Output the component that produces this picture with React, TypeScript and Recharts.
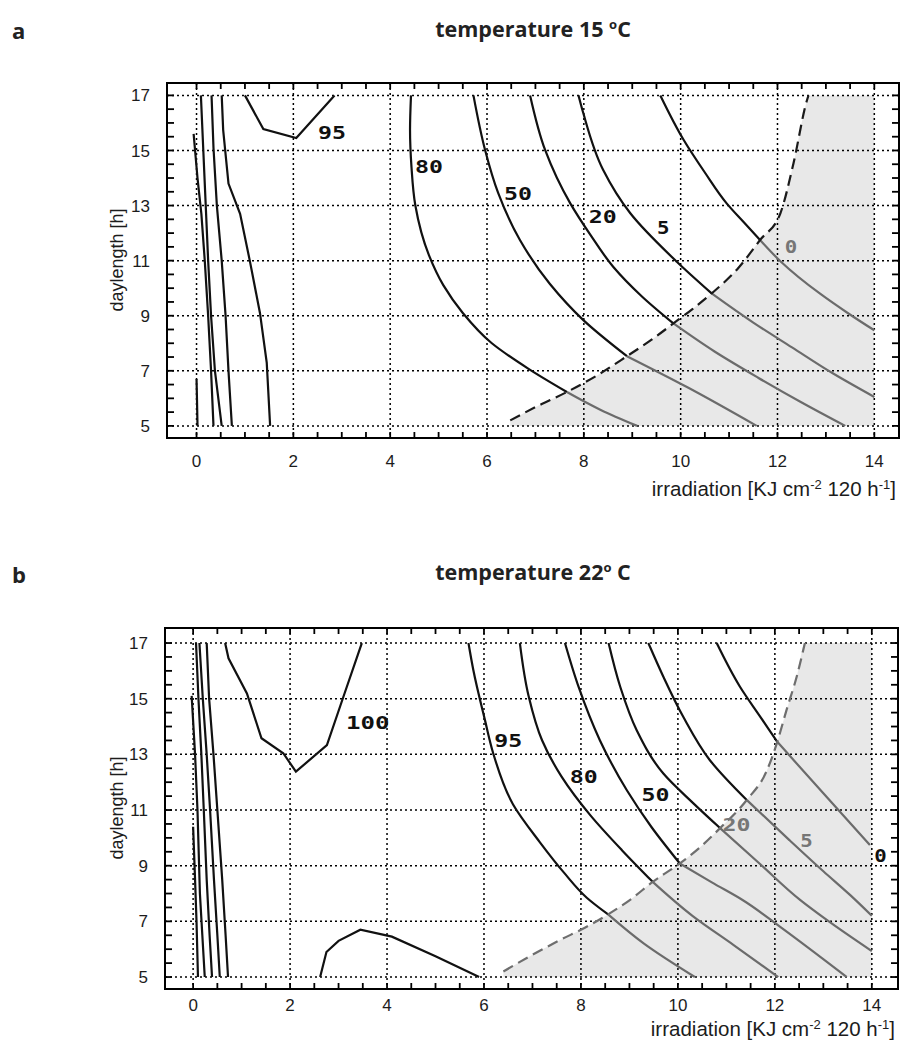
import React from 'react';
import { ComposedChart, Line, Area, XAxis, YAxis, CartesianGrid, ReferenceArea, ReferenceDot } from 'recharts';

type Pt = [number, number];
type Row = { x: number; y: number };
type Lbl = { text: string; x: number; y: number; gray?: boolean };

// ---------- axis ticks ----------
const majorX = [0, 2, 4, 6, 8, 10, 12, 14];
const majorY = [5, 7, 9, 11, 13, 15, 17];
const minorX = [0, 0.5, 1, 1.5, 2, 2.5, 3, 3.5, 4, 4.5, 5, 5.5, 6, 6.5, 7, 7.5, 8, 8.5, 9, 9.5, 10, 10.5, 11, 11.5, 12, 12.5, 13, 13.5, 14];
const minorY = [5, 5.5, 6, 6.5, 7, 7.5, 8, 8.5, 9, 9.5, 10, 10.5, 11, 11.5, 12, 12.5, 13, 13.5, 14, 14.5, 15, 15.5, 16, 16.5, 17];

// ---------- panel a (15 °C) ----------
const aLeft1: Pt[] = [[0.0, 6.7], [0.01, 5.9], [0.02, 5.0]];
const aLeft2: Pt[] = [[-0.06, 15.6], [0.02, 14.0], [0.1, 12.7], [0.17, 11.0], [0.24, 9.0], [0.3, 7.0], [0.35, 5.0]];
const aLeft3: Pt[] = [[0.09, 17.0], [0.14, 15.0], [0.19, 13.0], [0.24, 11.0], [0.3, 9.0], [0.38, 7.0], [0.52, 5.0]];
const aLeft4: Pt[] = [[0.31, 17.0], [0.35, 15.1], [0.42, 13.0], [0.52, 11.0], [0.6, 9.0], [0.66, 7.0], [0.73, 5.0]];
const aLeft5: Pt[] = [[0.52, 17.0], [0.55, 15.75], [0.66, 13.8], [0.9, 12.7], [1.1, 11.0], [1.31, 9.1], [1.45, 7.3], [1.52, 5.0]];
const a95: Pt[] = [[1.0, 17.0], [1.38, 15.78], [2.06, 15.45], [2.85, 17.0]];
const a80: Pt[] = [[4.43, 17.0], [4.41, 15.75], [4.44, 14.4], [4.52, 13.0], [4.8, 11.2], [5.1, 10.1], [5.5, 9.1], [6.1, 8.0], [6.85, 7.08], [7.65, 6.23]];
const a80Shade: Pt[] = [[7.65, 6.23], [8.35, 5.58], [9.1, 5.0]];
const a50: Pt[] = [[5.72, 17.0], [5.96, 15.02], [6.23, 13.46], [6.68, 11.75], [7.3, 10.15], [7.99, 8.84], [8.89, 7.53]];
const a50Shade: Pt[] = [[8.89, 7.53], [10.13, 6.41], [11.57, 5.0]];
const a20: Pt[] = [[6.89, 17.0], [7.2, 15.02], [7.72, 13.08], [8.15, 11.9], [8.61, 10.77], [9.2, 9.7], [9.85, 8.72]];
const a20Shade: Pt[] = [[9.85, 8.72], [10.7, 7.7], [11.6, 6.75], [12.5, 5.85], [13.4, 5.0]];
const a5: Pt[] = [[7.89, 17.0], [7.99, 16.35], [8.4, 14.29], [8.96, 12.72], [9.92, 10.96], [10.64, 9.81]];
const a5Shade: Pt[] = [[10.64, 9.81], [11.5, 8.75], [12.3, 7.85], [13.15, 6.9], [14.0, 6.05]];
const a0: Pt[] = [[9.58, 17.0], [10.06, 15.39], [10.5, 14.2], [10.95, 13.08], [11.3, 12.4], [11.64, 11.75]];
const a0Shade: Pt[] = [[11.64, 11.75], [12.06, 10.98], [12.88, 9.8], [13.45, 9.1], [14.0, 8.47]];
const aBoundary: Pt[] = [[6.48, 5.2], [7.0, 5.68], [7.65, 6.23], [8.3, 6.86], [8.89, 7.53], [9.4, 8.13], [9.85, 8.72], [10.25, 9.25], [10.64, 9.81], [11.2, 10.75], [11.64, 11.75], [12.06, 12.72], [12.33, 14.53], [12.6, 16.77], [12.64, 17.0]];
const aShadeCorner: Pt[] = [[14.0, 17.0]];
const aLabels: Lbl[] = [
  { text: '95', x: 2.8, y: 15.64 },
  { text: '80', x: 4.8, y: 14.41 },
  { text: '50', x: 6.64, y: 13.44 },
  { text: '20', x: 8.39, y: 12.6 },
  { text: '5', x: 9.64, y: 12.2 },
  { text: '0', x: 12.28, y: 11.5, gray: true },
];

// ---------- panel b (22 °C) ----------
const bLeft1: Pt[] = [[0.0, 10.4], [0.04, 8.5], [0.07, 7.0], [0.1, 5.0]];
const bLeft2: Pt[] = [[-0.03, 15.1], [0.04, 13.0], [0.09, 11.0], [0.14, 8.0], [0.19, 6.5], [0.24, 5.0]];
const bLeft3: Pt[] = [[0.06, 17.0], [0.11, 15.0], [0.17, 13.0], [0.22, 11.0], [0.28, 8.5], [0.34, 6.5], [0.39, 5.0]];
const bLeft4: Pt[] = [[0.13, 17.0], [0.2, 15.0], [0.28, 13.0], [0.35, 11.0], [0.43, 8.5], [0.5, 6.5], [0.55, 5.0]];
const bLeft5: Pt[] = [[0.28, 17.0], [0.33, 15.0], [0.42, 13.0], [0.5, 11.0], [0.6, 8.5], [0.67, 6.5], [0.72, 5.0]];
const b100Top: Pt[] = [[0.66, 17.0], [0.73, 16.45], [1.11, 15.19], [1.41, 13.58], [1.86, 13.04], [2.12, 12.38], [2.76, 13.33], [3.1, 15.07], [3.48, 17.0]];
const b100Bottom: Pt[] = [[2.62, 5.0], [2.75, 5.9], [3.0, 6.3], [3.45, 6.7], [4.1, 6.45], [5.0, 5.75], [5.9, 5.0]];
const b95: Pt[] = [[5.68, 17.0], [5.78, 16.03], [6.02, 14.23], [6.19, 13.04], [6.6, 11.2], [7.15, 9.85], [7.65, 8.75], [8.12, 7.85], [8.56, 7.25]];
const b95Shade: Pt[] = [[8.56, 7.25], [9.3, 6.2], [10.35, 5.0]];
const b80: Pt[] = [[6.74, 17.0], [6.92, 15.1], [7.2, 13.5], [7.6, 12.2], [8.2, 10.8], [8.85, 9.55], [9.48, 8.42]];
const b80Shade: Pt[] = [[9.48, 8.42], [10.3, 7.2], [11.15, 6.15], [12.07, 5.0]];
const b50: Pt[] = [[7.67, 17.0], [7.95, 15.43], [8.39, 13.51], [8.95, 11.7], [9.45, 10.4], [10.04, 9.08]];
const b50Shade: Pt[] = [[10.04, 9.08], [10.7, 8.4], [11.35, 7.75], [12.11, 6.8], [13.48, 5.0]];
const b20: Pt[] = [[8.57, 17.0], [8.81, 15.43], [9.15, 13.87], [9.7, 12.31], [10.32, 11.24], [10.87, 10.35]];
const b20Shade: Pt[] = [[10.87, 10.35], [11.7, 9.05], [12.52, 7.77], [13.07, 7.05], [14.0, 5.93]];
const b5: Pt[] = [[9.39, 17.0], [9.7, 15.79], [10.11, 14.35], [10.66, 12.79], [11.42, 11.36]];
const b5Shade: Pt[] = [[11.42, 11.36], [12.3, 9.92], [13.0, 8.8], [13.55, 7.95], [14.0, 7.2]];
const b0: Pt[] = [[10.8, 17.0], [11.28, 15.43], [11.7, 14.35], [12.05, 13.45]];
const b0Shade: Pt[] = [[12.05, 13.45], [13.0, 11.6], [13.96, 9.74]];
const bBoundary: Pt[] = [[6.4, 5.2], [7.0, 5.8], [7.57, 6.33], [8.09, 6.78], [8.56, 7.25], [9.05, 7.82], [9.48, 8.42], [10.04, 9.08], [10.45, 9.65], [10.87, 10.35], [11.42, 11.36], [11.83, 12.4], [12.05, 13.45], [12.24, 14.59], [12.45, 15.79], [12.62, 17.0]];
const bShadeCorner: Pt[] = [[14.0, 17.0]];
const bLabels: Lbl[] = [
  { text: '100', x: 3.6, y: 14.13 },
  { text: '95', x: 6.5, y: 13.49 },
  { text: '80', x: 8.06, y: 12.2 },
  { text: '50', x: 9.54, y: 11.54 },
  { text: '20', x: 11.21, y: 10.49, gray: true },
  { text: '5', x: 12.65, y: 9.92, gray: true },
  { text: '0', x: 14.18, y: 9.36 },
];

const BLACK = '#111111';
const GRAY = '#6b6b6b';
const SANS = '"Liberation Sans", Arial, sans-serif';
const TITLE = '"Open Sans", sans-serif';
const MONO = '"DejaVu Sans Mono", monospace';

const rows = (pts: Pt[]): Row[] => pts.map(([x, y]) => ({ x, y }));

interface PanelProps {
  width: number;
  height: number;
  margin: { top: number; right: number; bottom: number; left: number };
  xDomain: [number, number];
  yDomain: [number, number];
  straight: Pt[][];
  smooth: Pt[][];
  shaded: Pt[][];
  boundary: Pt[];
  corner: Pt[];
  boundaryColor: string;
  labels: Lbl[];
  xTickMargin: number;
}

const tickFont = { fontSize: 17, fill: '#1c1c1c', fontFamily: SANS };
const Y_AXIS_W = 60;
const X_AXIS_H = 55;
const TICK_X_PX = 6; // length of inward ticks on top / bottom edges
const TICK_Y_PX = 7; // length of inward ticks on left / right edges

function Panel(p: PanelProps) {
  const shadeRows = rows([...p.boundary, ...p.corner]);
  const boundaryRows = rows(p.boundary);
  const [x0, x1] = p.xDomain;
  const [y0, y1] = p.yDomain;
  // tick length converted from pixels to data units of the plot area
  const plotW = p.width - p.margin.left - p.margin.right - Y_AXIS_W;
  const plotH = p.height - p.margin.top - p.margin.bottom - X_AXIS_H;
  const lenY = (TICK_X_PX * (y1 - y0)) / plotH;
  const lenX = (TICK_Y_PX * (x1 - x0)) / plotW;
  // short two-point segments for the inward minor ticks on the four frame sides
  const tickSegs: Row[][] = [
    ...minorX.map((v) => [{ x: v, y: y0 }, { x: v, y: y0 + lenY }]),
    ...minorX.map((v) => [{ x: v, y: y1 }, { x: v, y: y1 - lenY }]),
    ...minorY.map((v) => [{ x: x0, y: v }, { x: x0 + lenX, y: v }]),
    ...minorY.map((v) => [{ x: x1, y: v }, { x: x1 - lenX, y: v }]),
  ];
  return (
    <ComposedChart width={p.width} height={p.height} margin={p.margin}>
      <XAxis type="number" dataKey="x" domain={p.xDomain} allowDataOverflow ticks={majorX} interval={0}
        tickLine={false} tickSize={6} tickMargin={p.xTickMargin} height={X_AXIS_H} tick={tickFont}
        axisLine={{ stroke: '#000', strokeWidth: 2 }} />
      <YAxis type="number" domain={p.yDomain} allowDataOverflow ticks={majorY} interval={0}
        tickLine={false} tickSize={6} width={Y_AXIS_W} tickMargin={11} tick={tickFont}
        axisLine={{ stroke: '#000', strokeWidth: 2 }} />
      <CartesianGrid stroke="#000" strokeDasharray="2 3" strokeWidth={1.5} verticalValues={majorX} horizontalValues={majorY} />
      <Area data={shadeRows} dataKey="y" type="monotone" baseValue={5} fill="#000" fillOpacity={0.09} stroke="none"
        isAnimationActive={false} dot={false} activeDot={false} />
      {tickSegs.map((seg, i) => (
        <Line key={'t' + i} data={seg} dataKey="y" type="linear" stroke="#000" strokeWidth={1.8}
          dot={false} activeDot={false} isAnimationActive={false} legendType="none" />
      ))}
      {p.shaded.map((s, i) => (
        <Line key={'g' + i} data={rows(s)} dataKey="y" type="monotoneY" stroke={GRAY} strokeWidth={2.2}
          dot={false} activeDot={false} isAnimationActive={false} />
      ))}
      {p.straight.map((s, i) => (
        <Line key={'s' + i} data={rows(s)} dataKey="y" type="linear" stroke={BLACK} strokeWidth={2.2}
          dot={false} activeDot={false} isAnimationActive={false} />
      ))}
      {p.smooth.map((s, i) => (
        <Line key={'c' + i} data={rows(s)} dataKey="y" type="monotoneY" stroke={BLACK} strokeWidth={2.2}
          dot={false} activeDot={false} isAnimationActive={false} />
      ))}
      <Line data={boundaryRows} dataKey="y" type="monotone" stroke={p.boundaryColor} strokeWidth={2.2}
        strokeDasharray="11 6" dot={false} activeDot={false} isAnimationActive={false} />
      <ReferenceArea x1={x0} x2={x1} y1={y0} y2={y1}
        fill="none" fillOpacity={0} stroke="#000" strokeWidth={2} ifOverflow="visible" />
      {p.labels.map((l, i) => (
        <ReferenceDot key={'l' + i} x={l.x} y={l.y} r={0} ifOverflow="visible"
          shape={(sp: any) => (
            <text x={sp.cx} y={sp.cy} dy="0.36em" textAnchor="middle" fontFamily={MONO} fontWeight="bold"
              fontSize={18} fill={l.gray ? '#767676' : BLACK}
              textLength={15.5 * l.text.length - 3} lengthAdjust="spacingAndGlyphs">{l.text}</text>
          )} />
      ))}
    </ComposedChart>
  );
}

function XTitle({ x, y }: { x: number; y: number }) {
  return (
    <text x={x} y={y} textAnchor="end" fontFamily={SANS} fontSize={20.5} fill="#1c1c1c">
      irradiation [KJ cm<tspan dy={-7} fontSize={13}>-2</tspan><tspan dy={7}> 120 h</tspan>
      <tspan dy={-7} fontSize={13}>-1</tspan><tspan dy={7}>]</tspan>
    </text>
  );
}

function YTitle({ x, y }: { x: number; y: number }) {
  return (
    <text transform={`translate(${x},${y}) rotate(-90)`} textAnchor="middle" dominantBaseline="central"
      fontFamily={SANS} fontSize={18} fill="#1c1c1c">daylength [h]</text>
  );
}

export default function App() {
  return (
    <div style={{ position: 'absolute', left: 0, top: 0, width: 901, height: 1046, background: '#fff', overflow: 'hidden' }}>
      <svg width={901} height={1046} style={{ position: 'absolute', left: 0, top: 0 }}>
        <text x={12} y={39} fontFamily={TITLE} fontWeight={700} fontSize={22} fill="#222">a</text>
        <text x={533} y={37} textAnchor="middle" fontFamily={TITLE} fontWeight={700} fontSize={21.5} fill="#222">
          temperature 15 <tspan dy={-8} fontSize={13}>o</tspan><tspan dy={8}>C</tspan>
        </text>
        <text x={12} y={583} fontFamily={TITLE} fontWeight={700} fontSize={22} fill="#222">b</text>
        <text x={533} y={580} textAnchor="middle" fontFamily={TITLE} fontWeight={700} fontSize={21.5} fill="#222">
          temperature 22<tspan dy={-8} fontSize={13}>o</tspan><tspan dy={8}> C</tspan>
        </text>
        <YTitle x={117} y={260} />
        <YTitle x={117} y={808} />
        <XTitle x={896} y={496} />
        <XTitle x={895} y={1036} />
      </svg>
      <div style={{ position: 'absolute', left: 0, top: 0 }}>
        <Panel width={901} height={520} margin={{ top: 83, right: 2, bottom: 27, left: 107 }}
          xDomain={[-0.61, 14.51]} yDomain={[4.56, 17.45]}
          straight={[aLeft1, aLeft2, aLeft3, aLeft4, aLeft5, a95]}
          smooth={[a80, a50, a20, a5, a0]}
          shaded={[a80Shade, a50Shade, a20Shade, a5Shade, a0Shade]}
          boundary={aBoundary} corner={aShadeCorner} boundaryColor="#1a1a1a" labels={aLabels} xTickMargin={11} />
      </div>
      <div style={{ position: 'absolute', left: 0, top: 540 }}>
        <Panel width={901} height={506} margin={{ top: 88, right: 3, bottom: 2, left: 105 }}
          xDomain={[-0.58, 14.54]} yDomain={[4.57, 17.54]}
          straight={[bLeft1, bLeft2, bLeft3, bLeft4, bLeft5, b100Top, b100Bottom]}
          smooth={[b95, b80, b50, b20, b5, b0]}
          shaded={[b95Shade, b80Shade, b50Shade, b20Shade, b5Shade, b0Shade]}
          boundary={bBoundary} corner={bShadeCorner} boundaryColor="#6e6e6e" labels={bLabels} xTickMargin={4} />
      </div>
    </div>
  );
}
